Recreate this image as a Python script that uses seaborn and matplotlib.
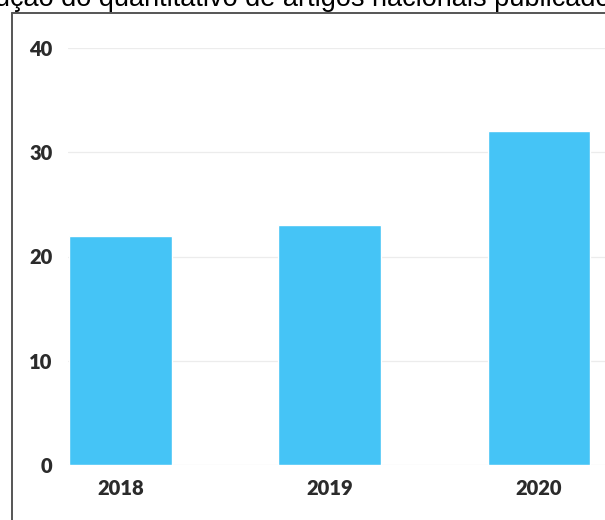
import matplotlib
matplotlib.use("Agg")
import matplotlib.pyplot as plt
import seaborn as sns
import pandas as pd
from matplotlib.lines import Line2D

years = ["2018", "2019", "2020"]
counts = [22, 23, 32]
yticks = [0, 10, 20, 30, 40]
title_text = "Evolução do quantitativo de artigos nacionais publicados"

sns.set_theme(style="white")
plt.rcParams['font.family'] = ['Lato', 'DejaVu Sans']

W, H = 605, 520
fig = plt.figure(figsize=(W / 100, H / 100), dpi=100)
fig.patch.set_facecolor("white")

# axes placement (pixels)
ax_left, ax_bottom_px, ax_top_px = 68, 465, 48
ax = fig.add_axes([ax_left / W, (H - ax_bottom_px) / H,
                   (W - ax_left) / W, (ax_bottom_px - ax_top_px) / H])

df = pd.DataFrame({"year": years, "count": counts})
sns.barplot(data=df, x="year", y="count", color="#45C4F6", saturation=1,
            width=0.49, ax=ax, zorder=3)

ax.set_ylim(0, 40)
ax.set_xlim(-0.25, (W - 120) / 209.5)
ax.set_yticks(yticks)
ax.set_yticklabels([str(t) for t in yticks])
ax.set_xlabel("")
ax.set_ylabel("")
for s in ax.spines.values():
    s.set_visible(False)
ax.yaxis.grid(True, color="#ececec", linewidth=0.9, zorder=0)
ax.xaxis.grid(False)
ax.set_axisbelow(True)
ax.tick_params(axis="y", length=0, pad=11, labelsize=14.5, labelcolor="#2b2b2b")
ax.tick_params(axis="x", length=0, pad=10, labelsize=14.5, labelcolor="#2b2b2b")
for lab in ax.get_xticklabels() + ax.get_yticklabels():
    lab.set_fontweight("heavy")

# outer frame (left and top border)
fig.add_artist(Line2D([12 / W, 12 / W], [0, 1 - 13 / H], transform=fig.transFigure,
                      color="#555555", linewidth=1.4))
fig.add_artist(Line2D([12 / W, 1], [1 - 13 / H, 1 - 13 / H], transform=fig.transFigure,
                      color="#555555", linewidth=1.4))

# title, cropped at the top of the image
fig.canvas.draw()
renderer = fig.canvas.get_renderer()
probe = fig.text(0, 0, "ução do quantitativo de artigos nacionais publicado",
                 fontsize=10, family="Liberation Sans")
w10 = probe.get_window_extent(renderer).width
probe.remove()
fs = 10 * 616 / w10
probe2 = fig.text(0, 0, "Evol", fontsize=fs, family="Liberation Sans")
w_evol = probe2.get_window_extent(renderer).width
probe2.remove()
fig.text(-(w_evol + 5) / W, 1 - 6.5 / H, title_text, fontsize=fs,
         family="Liberation Sans", color="#000000", ha="left", va="baseline")

fig.savefig("out.png", dpi=100)
